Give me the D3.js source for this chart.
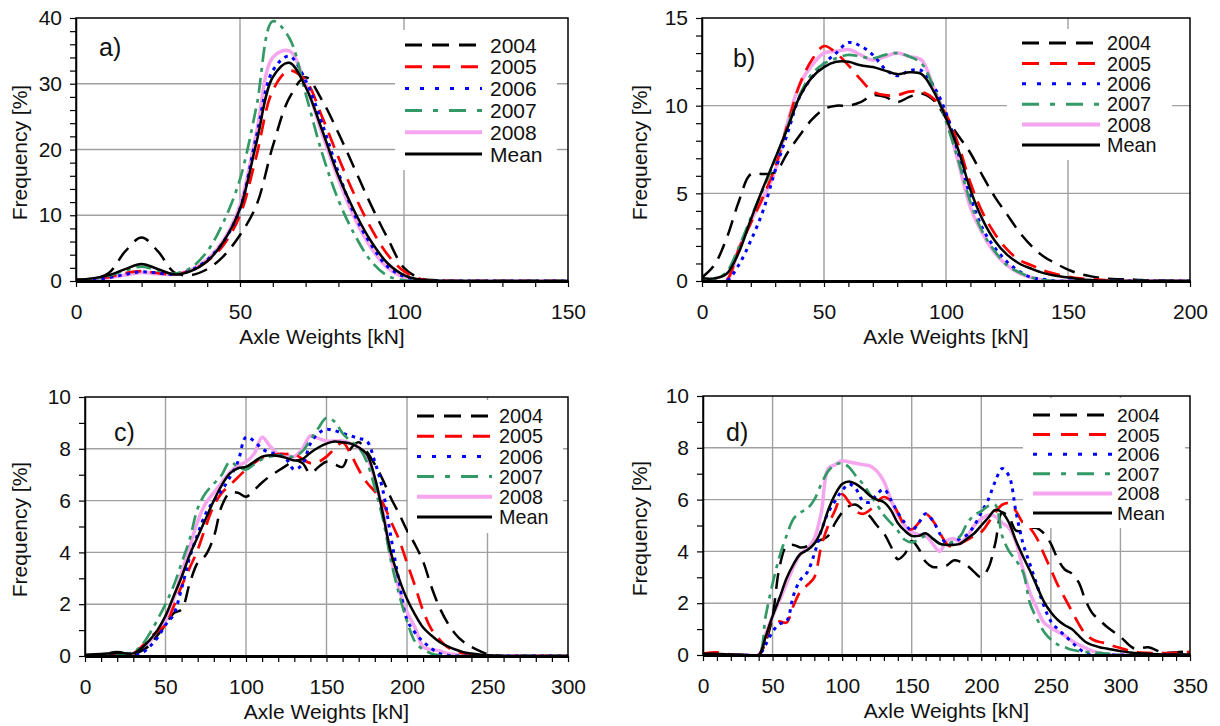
<!DOCTYPE html>
<html>
<head>
<meta charset="utf-8">
<script src="https://cdn.jsdelivr.net/npm/d3@7"></script>
<style>
  body { margin: 0; background: #fff; }
  svg { display: block; font-family: "Liberation Sans", Arial, sans-serif; }
  .tick line { stroke: #000; stroke-width: 1.2; }
  .tick text { font-size: 21px; fill: #111; }
</style>
</head>
<body>
<div id="Chart"></div>
<script>
// ---- DATA ----
const seriesNames = ["2004", "2005", "2006", "2007", "2008", "Mean"];

// a)
const xA = [0,5,10,15,20,25,30,35,40,45,50,55,60,65,70,75,80,85,90,95,100,105,110,120,130,140,150];
const a2004 = [0.1,0.3,1.2,4.5,6.6,4.5,1.3,0.9,1.8,3.8,7.0,11.5,20.5,27.8,31.0,27.5,22.5,17.0,11.5,6.5,2.0,0.4,0.1,0,0,0,0];
const a2005 = [0.2,0.3,0.6,1.2,1.5,1.2,1.0,1.6,3.0,5.5,10,19,29,32,30.5,25,18.8,13,8,4,1.5,0.3,0.05,0,0,0,0];
const a2006 = [0.1,0.2,0.5,1.0,1.4,1.2,1.0,1.6,3.2,6,11,22,32,34.2,30.5,24,16.5,10,5.5,2.2,0.7,0.1,0,0,0,0,0];
const a2007 = [0.1,0.3,0.8,1.6,2.2,1.6,1.1,2.0,4.5,9,15.5,26.5,39.5,37,28.5,19.5,12.3,7,3,0.8,0.1,0,0,0,0,0,0];
const a2008 = [0.1,0.2,0.5,0.9,1.3,1.1,1.0,1.7,3.3,6.2,11.5,22.5,34,35,30,22.5,15.5,9.5,5,2,0.6,0.1,0,0,0,0,0];
const aMean = [0.2,0.4,0.9,1.8,2.6,1.8,1.0,1.5,3.0,6.0,11,21,31,33.2,29.5,23,16,10.5,6,2.7,0.9,0.2,0.05,0,0,0,0];

// b)
const xB = [0,5,10,15,20,25,30,35,40,45,50,55,60,65,70,75,80,85,90,95,100,105,110,115,120,125,130,135,140,145,150,155,160,165,170,175,180,190,200];
const b2004 = [0.2,0.9,2.4,4.5,6.1,6.1,6.2,7.3,8.3,9.2,9.8,10.0,10.0,10.2,10.6,10.5,10.2,10.5,10.7,10.3,9.3,8.3,7.3,6.0,4.8,3.8,2.8,2.0,1.4,1.0,0.65,0.4,0.25,0.15,0.1,0.1,0.05,0.02,0];
const b2005 = [0,0,0.05,1.8,3.3,4.8,6.5,8.9,11.2,12.6,13.4,13.0,12.3,11.5,10.8,10.6,10.6,10.8,10.8,10.4,9.5,7.8,5.6,3.9,2.7,1.8,1.2,0.9,0.6,0.4,0.25,0.15,0.1,0.05,0,0,0,0,0];
const b2006 = [0,0,0,0.9,2.3,4.0,6.3,8.4,10.5,11.6,12.4,13.0,13.6,13.4,12.9,12.1,11.7,12.0,12.0,11.1,9.6,7.3,4.8,3.0,1.9,1.1,0.55,0.2,0.1,0,0,0,0,0,0,0,0,0,0];
const b2007 = [0,0.1,0.5,1.9,3.6,5.2,6.9,8.8,10.6,11.8,12.4,12.7,12.9,12.8,12.7,12.9,13.0,12.8,12.4,11.0,9.1,6.9,4.5,2.8,1.7,0.9,0.5,0.2,0.05,0,0,0,0,0,0,0,0,0,0];
const b2008 = [0,0,0,1.8,3.4,4.7,6.3,9.0,11.2,12.3,13.0,13.1,13.2,12.9,12.6,12.8,13.0,12.8,12.6,11.0,9.3,6.8,4.2,2.7,1.6,0.9,0.45,0.2,0.05,0,0,0,0,0,0,0,0,0,0];
const bMean = [0.15,0.15,0.4,1.6,3.5,5.3,7.0,8.7,10.5,11.6,12.2,12.5,12.5,12.3,12.2,12.0,11.8,11.9,11.8,10.8,9.3,7.5,5.2,3.5,2.3,1.5,1.0,0.7,0.45,0.3,0.2,0.1,0.05,0.02,0,0,0,0,0];

// c)
const xC = [0,10,20,30,35,40,45,50,55,60,65,70,75,80,85,90,95,100,105,110,115,120,125,130,135,140,145,150,155,160,165,170,175,180,185,190,195,200,205,210,215,220,225,230,235,240,245,250,260,270,280,290,300];
const c2004 = [0,0.05,0.15,0.05,0.2,0.4,0.8,1.2,1.65,1.8,2.8,3.6,3.9,4.6,5.8,6.3,6.3,6.15,6.4,6.7,6.95,7.15,7.35,7.55,7.45,7.05,7.3,7.5,7.4,7.3,8.0,8.25,7.9,7.4,6.8,6.1,5.5,4.85,4.3,3.65,2.7,1.9,1.3,0.85,0.55,0.35,0.2,0.08,0,0,0,0,0];
const c2005 = [0,0,0.05,0.1,0.35,0.7,0.95,1.2,1.9,2.7,3.4,4.1,5.0,5.8,6.3,6.6,6.9,7.2,7.45,7.65,7.75,7.8,7.8,7.8,7.6,7.45,7.5,7.7,8.0,8.25,7.8,7.2,6.7,6.35,5.9,5.2,4.5,3.6,2.7,1.75,1.05,0.65,0.35,0.2,0.1,0.05,0.02,0,0,0,0,0,0];
const c2006 = [0,0,0,0.02,0.1,0.35,0.7,1.2,1.6,2.6,3.8,4.7,5.5,6.0,6.4,6.9,7.5,8.45,8.3,8.0,7.85,7.8,7.6,7.2,7.4,8.2,8.6,8.75,8.7,8.6,8.5,8.4,8.3,7.5,6.4,4.6,2.9,1.4,0.9,0.55,0.3,0.1,0.03,0,0,0,0,0,0,0,0,0,0];
const c2007 = [0,0.02,0.05,0.15,0.4,0.85,1.4,2.0,2.7,3.6,4.5,5.7,6.3,6.65,7.0,7.5,7.3,7.2,7.4,7.6,7.7,7.75,7.7,7.7,7.9,8.35,8.8,9.2,9.05,8.6,8.3,8.05,7.5,6.5,5.3,3.7,2.4,1.35,0.55,0.25,0.1,0.03,0,0,0,0,0,0,0,0,0,0,0];
const c2008 = [0,0.02,0.05,0.1,0.3,0.55,0.9,1.35,2.2,3.2,4.2,5.2,5.9,6.3,6.7,7.1,7.35,7.5,7.8,8.45,8.1,7.8,7.75,7.7,8.0,8.5,8.4,8.3,8.3,8.3,8.2,8.05,7.7,6.8,5.6,3.8,2.6,1.7,1.1,0.35,0.25,0.2,0.1,0.05,0,0,0,0,0,0,0,0,0];
const cMean = [0.05,0.08,0.12,0.1,0.3,0.6,1.0,1.55,2.3,3.05,3.9,4.6,5.3,6.0,6.6,7.05,7.25,7.3,7.5,7.7,7.75,7.72,7.65,7.55,7.6,7.85,8.05,8.2,8.28,8.25,8.2,8.05,7.8,6.9,5.5,4.0,3.0,2.2,1.6,1.1,0.8,0.55,0.38,0.25,0.15,0.1,0.06,0.03,0,0,0,0,0];

// d)
const xD = [0,10,20,30,40,45,50,55,60,65,70,75,80,85,90,95,100,105,110,115,120,125,130,135,140,145,150,155,160,165,170,175,180,185,190,195,200,205,210,215,220,225,230,235,240,245,250,255,260,265,270,275,280,285,290,295,300,310,320,330,340,350];
const d2004 = [0.05,0.05,0.02,0,0,0.5,1.5,3.4,4.2,4.25,4.15,4.2,4.35,4.45,4.6,5.1,5.5,5.75,5.8,5.6,5.35,5.0,4.7,4.2,3.7,3.9,4.4,4.1,3.6,3.4,3.4,3.45,3.65,3.6,3.45,3.2,3.0,3.35,4.3,5.5,5.3,4.8,4.8,4.9,4.9,4.7,4.3,3.7,3.3,3.15,2.8,2.1,1.6,1.35,1.1,0.9,0.7,0.25,0.3,0.1,0.1,0.15];
const d2005 = [0.05,0.1,0.02,0,0,0.6,1.35,1.3,1.25,1.9,2.45,2.7,3.0,4.2,5.0,5.6,6.2,5.9,5.55,5.45,5.6,5.9,6.1,5.95,5.5,5.0,4.85,5.1,5.45,5.2,4.75,4.3,4.15,4.3,4.45,4.6,4.75,5.1,5.5,5.8,5.85,5.55,5.1,4.9,4.5,3.9,3.3,2.7,2.2,1.7,1.2,0.8,0.6,0.5,0.45,0.35,0.27,0.12,0.08,0.07,0.08,0.12];
const d2006 = [0,0,0,0,0,0.4,0.9,1.2,1.3,2.3,2.9,3.2,3.9,4.8,5.5,5.95,6.35,6.6,6.4,5.95,5.9,6.2,6.4,6.0,5.5,5.1,4.8,5.1,5.45,5.2,4.7,4.3,4.35,4.5,4.65,5.0,5.5,6.0,6.7,7.2,6.9,5.5,4.3,3.5,2.7,1.9,1.3,1.0,0.75,0.5,0.25,0.08,0,0,0,0,0,0,0,0,0,0];
const d2007 = [0,0,0,0,0,1.5,2.75,3.8,4.6,5.25,5.5,5.65,6.0,6.6,7.1,7.35,7.4,7.25,6.9,6.6,6.2,5.8,5.4,5.1,4.8,4.45,4.35,4.45,4.6,4.5,4.3,4.25,4.4,4.6,5.1,5.4,5.55,5.75,5.8,4.6,4.0,3.65,3.2,2.0,1.4,0.9,0.6,0.4,0.3,0.2,0.15,0.12,0.1,0.08,0.05,0.03,0,0,0,0,0,0];
const d2008 = [0,0,0,0,0,0.8,1.5,2.1,2.75,3.4,3.9,4.1,4.5,5.5,7.2,7.35,7.5,7.45,7.4,7.35,7.3,7.1,6.7,6.0,5.4,5.0,4.75,4.65,4.6,4.3,4.0,4.4,4.5,4.35,4.6,5.0,5.25,5.4,5.35,5.1,4.9,4.35,3.3,2.4,1.8,1.25,1.05,0.9,0.75,0.55,0.4,0.27,0.15,0.08,0.03,0,0,0,0,0,0,0];
const dMean = [0.05,0.05,0.02,0,0,0.7,1.5,2.2,2.95,3.5,3.9,4.05,4.3,4.8,5.6,6.2,6.6,6.7,6.6,6.4,6.15,6.0,5.9,5.6,5.1,4.8,4.6,4.6,4.7,4.5,4.3,4.25,4.25,4.3,4.5,4.7,5.0,5.3,5.6,5.5,5.1,4.4,3.8,3.25,2.65,2.06,1.65,1.35,1.15,1.0,0.75,0.5,0.38,0.3,0.25,0.2,0.15,0.08,0.05,0.02,0.02,0.02];

// ---- STYLES ----
const styles = {
    "2004": { color: "#000000", width: 2.5, dash: "16,9", legendDash: "17,10" },
    "2005": { color: "#ff0000", width: 2.7, dash: "16,9", legendDash: "17,11" },
    "2006": { color: "#0000ff", width: 3, dash: "3.5,5", legendDash: "4,11" },
    "2007": { color: "#339966", width: 2.7, dash: "15,6,4,6", legendDash: "17,11,5,11" },
    "2008": { color: "#f5a6ef", width: 3.5, dash: null, legendDash: null },
    "Mean": { color: "#000000", width: 2.5, dash: null, legendDash: null }
};
const drawOrder = ["2008", "2004", "2005", "2006", "2007", "Mean"];

const panels = [
    { label: "a)", xs: xA, ys: [a2004, a2005, a2006, a2007, a2008, aMean],
      xMax: 150, yMax: 40, xMajor: 50, xMinor: 10, yMajor: 10, yMinor: 2,
      box: { left: 76, right: 568, top: 18, bottom: 281 }, ytitleX: 20,
      lab: [99, 56], leg: { x0: 405, x1: 482, tx: 490, y0: 45, dy: 21.8, fs: 21, bx: 395, by: 30, bw: 162, bh: 140 } },
    { label: "b)", xs: xB, ys: [b2004, b2005, b2006, b2007, b2008, bMean],
      xMax: 200, yMax: 15, xMajor: 50, xMinor: 10, yMajor: 5, yMinor: 1,
      box: { left: 702, right: 1190, top: 18, bottom: 281 }, ytitleX: 640,
      lab: [733, 67], leg: { x0: 1022, x1: 1100, tx: 1107, y0: 43, dy: 20.4, fs: 19.8, bx: 1007, by: 29, bw: 165, bh: 131 } },
    { label: "c)", xs: xC, ys: [c2004, c2005, c2006, c2007, c2008, cMean],
      xMax: 300, yMax: 10, xMajor: 50, xMinor: 10, yMajor: 2, yMinor: 1,
      box: { left: 85, right: 568, top: 397, bottom: 656 }, ytitleX: 20,
      lab: [114, 441], leg: { x0: 417, x1: 492, tx: 499, y0: 416, dy: 20.2, fs: 19.8, bx: 408, by: 400, bw: 155, bh: 133 } },
    { label: "d)", xs: xD, ys: [d2004, d2005, d2006, d2007, d2008, dMean],
      xMax: 350, yMax: 10, xMajor: 50, xMinor: 10, yMajor: 2, yMinor: 1,
      box: { left: 703, right: 1190, top: 396, bottom: 655 }, ytitleX: 640,
      lab: [726, 441], leg: { x0: 1033, x1: 1112, tx: 1117, y0: 415, dy: 19.6, fs: 19.2, bx: 1023, by: 398, bw: 162, bh: 130 } }
];

// ---- MAIN ----
const svg = d3.select("#Chart").append("svg")
    .attr("width", 1220)
    .attr("height", 726);

svg.append("rect").attr("width", 1220).attr("height", 726).attr("fill", "#fff");

panels.forEach((p, pi) => {
    const b = p.box;
    const g = svg.append("g");

    const x = d3.scaleLinear().domain([0, p.xMax]).range([b.left, b.right]);
    const y = d3.scaleLinear().domain([0, p.yMax]).range([b.bottom, b.top]);

    // gridlines
    const xGrid = d3.range(p.xMajor, p.xMax, p.xMajor);
    const yGrid = d3.range(p.yMajor, p.yMax, p.yMajor);
    g.append("g").selectAll("line").data(xGrid).enter().append("line")
        .attr("x1", d => x(d)).attr("x2", d => x(d))
        .attr("y1", b.top).attr("y2", b.bottom)
        .attr("stroke", "#a0a0a0").attr("stroke-width", 1.4);
    g.append("g").selectAll("line").data(yGrid).enter().append("line")
        .attr("x1", b.left).attr("x2", b.right)
        .attr("y1", d => y(d)).attr("y2", d => y(d))
        .attr("stroke", "#a0a0a0").attr("stroke-width", 1.4);

    // lines
    const clipId = "clip" + pi;
    svg.append("clipPath").attr("id", clipId).append("rect")
        .attr("x", b.left).attr("y", b.top - 4)
        .attr("width", b.right - b.left).attr("height", b.bottom - b.top + 4);

    const line = d3.line()
        .x(d => x(d[0]))
        .y(d => y(Math.max(0, d[1])))
        .curve(d3.curveCatmullRom.alpha(0.5));

    const lines = g.append("g").attr("clip-path", "url(#" + clipId + ")");
    drawOrder.forEach(name => {
        const vals = p.ys[seriesNames.indexOf(name)];
        const pts = p.xs.map((xv, i) => [xv, vals[i]]);
        const st = styles[name];
        lines.append("path")
            .datum(pts)
            .attr("d", line)
            .attr("fill", "none")
            .attr("stroke", st.color)
            .attr("stroke-width", st.width)
            .attr("stroke-dasharray", st.dash)
            .attr("stroke-linejoin", "round");
    });

    // frame
    g.append("rect")
        .attr("x", b.left).attr("y", b.top)
        .attr("width", b.right - b.left).attr("height", b.bottom - b.top)
        .attr("fill", "none").attr("stroke", "#000").attr("stroke-width", 1.5);

    // AXES
    const xAxis = g.append("g")
        .attr("transform", "translate(0," + b.bottom + ")")
        .call(d3.axisBottom(x)
            .tickValues(d3.range(0, p.xMax + 0.1, p.xMinor))
            .tickSize(6).tickSizeOuter(0).tickPadding(17)
            .tickFormat(d => d % p.xMajor === 0 ? d : ""));
    xAxis.select(".domain").attr("stroke", "#000").attr("stroke-width", 3);

    const yAxis = g.append("g")
        .attr("transform", "translate(" + b.left + ",0)")
        .call(d3.axisLeft(y)
            .tickValues(d3.range(0, p.yMax + 0.01, p.yMinor))
            .tickSize(6).tickSizeOuter(0).tickPadding(8)
            .tickFormat(d => d % p.yMajor === 0 ? d : ""));
    yAxis.select(".domain").attr("stroke", "#000").attr("stroke-width", 1.5);
    g.selectAll(".tick text").attr("font-family", "Liberation Sans, Arial, sans-serif");

    // titles
    g.append("text")
        .attr("x", (b.left + b.right) / 2)
        .attr("y", b.bottom + 63)
        .attr("text-anchor", "middle")
        .attr("font-size", 21).attr("fill", "#111")
        .text("Axle Weights [kN]");

    g.append("text")
        .attr("transform", "translate(" + p.ytitleX + "," + ((b.top + b.bottom) / 2 + 3) + ") rotate(-90)")
        .attr("dy", "0.35em")
        .attr("text-anchor", "middle")
        .attr("font-size", 21).attr("fill", "#111")
        .text("Frequency [%]");

    g.append("text")
        .attr("x", p.lab[0]).attr("y", p.lab[1])
        .attr("font-size", 25).attr("fill", "#111")
        .text(p.label);

    // legend
    const L = p.leg;
    const leg = g.append("g");
    leg.append("rect")
        .attr("x", L.bx).attr("y", L.by).attr("width", L.bw).attr("height", L.bh)
        .attr("fill", "#fff");
    seriesNames.forEach((name, i) => {
        const st = styles[name];
        const ly = L.y0 + i * L.dy;
        leg.append("line")
            .attr("x1", L.x0).attr("x2", L.x1)
            .attr("y1", ly).attr("y2", ly)
            .attr("stroke", st.color)
            .attr("stroke-width", name === "2008" ? 4 : 3)
            .attr("stroke-dasharray", st.legendDash);
        leg.append("text")
            .attr("x", L.tx).attr("y", ly)
            .attr("dy", "0.36em")
            .attr("font-size", L.fs).attr("fill", "#111")
            .text(name);
    });
});
</script>
</body>
</html>
